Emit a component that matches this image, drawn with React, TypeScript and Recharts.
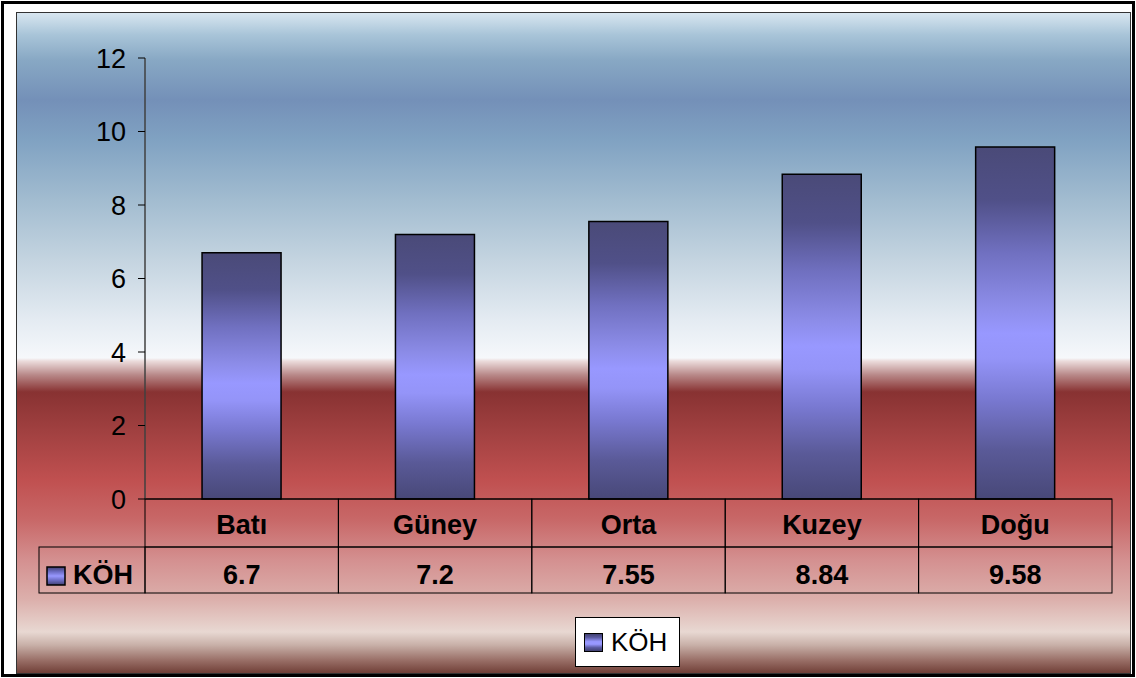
import React from "react";
import { Bar, BarChart, Legend, XAxis, YAxis } from "recharts";

// values
const regions = ["Batı", "Güney", "Orta", "Kuzey", "Doğu"];
const kohValues = [6.7, 7.2, 7.55, 8.84, 9.58];
const valueLabels = ["6.7", "7.2", "7.55", "8.84", "9.58"];
const yTicks = [0, 2, 4, 6, 8, 10, 12];
const seriesName = "KÖH";

const data = regions.map((region, i) => ({ region, koh: kohValues[i] }));

const FONT = '"Liberation Sans", Arial, sans-serif';

const bgGradient = `linear-gradient(to bottom,
  #d8e6f0 0px, #a8c4d8 22px, #88a8c4 47px, #7490b8 87px, #80a2c2 127px,
  #a2bcd0 187px, #c4d4e0 247px, #e4ebf2 307px, #f6f8fb 345px,
  #ecdcdc 348px, #b88888 362px, #883232 379px, #a04040 417px,
  #c05050 467px, #c86868 507px, #d49090 547px, #dcb0ac 587px,
  #e8d8d2 619px, #c8b0a8 632px, #9a7068 647px, #6a3830 662px)`;

const swatchCss =
  "linear-gradient(to bottom, #404070 0%, #5a5aa0 20%, #9898ff 45%, #9898ff 60%, #5a5aa0 80%, #404070 100%)";

function TableTick(props: any) {
  const { x, y, payload, index } = props;
  const half = payload && payload.offset ? payload.offset : 96.7;
  const left = x - half;
  const w = half * 2;
  const row1 = 48;
  const row2 = 46;
  return (
    <g fontFamily={FONT}>
      {index === 0 && (
        <g>
          <rect x={39} y={y + row1} width={left - 39} height={row2} fill="none" stroke="#000" strokeWidth={1} />
          <rect x={47} y={y + 68} width={18} height={18} fill="url(#swatchGrad)" stroke="#000" strokeWidth={1.5} />
          <text x={73} y={y + 85} fontSize={27} fontWeight="bold" fill="#000">
            {seriesName}
          </text>
        </g>
      )}
      <rect x={left} y={y} width={w} height={row1} fill="none" stroke="#000" strokeWidth={1} />
      <rect x={left} y={y + row1} width={w} height={row2} fill="none" stroke="#000" strokeWidth={1} />
      <text x={x} y={y + 35} textAnchor="middle" fontSize={27} fontWeight="bold" fill="#000">
        {payload.value}
      </text>
      <text x={x} y={y + 85} textAnchor="middle" fontSize={27} fontWeight="bold" fill="#000">
        {valueLabels[index]}
      </text>
    </g>
  );
}

function LegendBox(props: any) {
  const items = props.payload || [];
  return (
    <div
      style={{
        width: 105,
        height: 50,
        boxSizing: "border-box",
        background: "#fff",
        border: "1px solid #000",
        display: "flex",
        alignItems: "center",
        fontFamily: FONT,
        fontSize: 26,
        color: "#000",
      }}
    >
      {items.map((it: any) => (
        <span key={it.value} style={{ display: "flex", alignItems: "center" }}>
          <span
            style={{
              display: "inline-block",
              width: 19,
              height: 19,
              marginLeft: 8,
              marginRight: 8,
              boxSizing: "border-box",
              border: "1.5px solid #000",
              background: swatchCss,
            }}
          />
          {it.value}
        </span>
      ))}
    </div>
  );
}

export default function App() {
  return (
    <div
      style={{
        position: "absolute",
        left: 0,
        top: 0,
        width: 1136,
        height: 678,
        background: "#fff",
        overflow: "hidden",
      }}
    >
      {/* outer frame */}
      <div
        style={{
          position: "absolute",
          left: 1,
          top: 1,
          width: 1134,
          height: 676,
          boxSizing: "border-box",
          border: "3px solid #000",
        }}
      />
      {/* chart area background */}
      <div
        style={{
          position: "absolute",
          left: 16,
          top: 12,
          width: 1115,
          height: 662,
          boxSizing: "border-box",
          border: "1px solid #333",
          background: bgGradient,
        }}
      />
      <div style={{ position: "absolute", left: 0, top: 0 }}>
        <BarChart
          width={1136}
          height={678}
          data={data}
          margin={{ top: 58, right: 24, left: 0, bottom: 85 }}
          barCategoryGap="29.5%"
          style={{ fontFamily: FONT }}
        >
          <defs>
            <linearGradient id="barGrad" x1="0" y1="0" x2="0" y2="1">
              <stop offset="0%" stopColor="#4a4a78" />
              <stop offset="15%" stopColor="#505088" />
              <stop offset="30%" stopColor="#7070c0" />
              <stop offset="45%" stopColor="#8c8ce8" />
              <stop offset="53%" stopColor="#9898ff" />
              <stop offset="60%" stopColor="#9494f8" />
              <stop offset="72%" stopColor="#7878d0" />
              <stop offset="86%" stopColor="#5a5a98" />
              <stop offset="100%" stopColor="#484878" />
            </linearGradient>
            <linearGradient id="swatchGrad" x1="0" y1="0" x2="0" y2="1">
              <stop offset="0%" stopColor="#404070" />
              <stop offset="25%" stopColor="#6a6ac0" />
              <stop offset="50%" stopColor="#9898ff" />
              <stop offset="75%" stopColor="#6a6ac0" />
              <stop offset="100%" stopColor="#404070" />
            </linearGradient>
          </defs>
          <XAxis
            dataKey="region"
            height={94}
            interval={0}
            tickLine={false}
            tickSize={0}
            tickMargin={0}
            axisLine={{ stroke: "#000", strokeWidth: 1 }}
            tick={<TableTick />}
          />
          <YAxis
            domain={[0, 12]}
            ticks={yTicks}
            interval={0}
            width={145}
            tickSize={7}
            tickMargin={12}
            axisLine={{ stroke: "#404040", strokeWidth: 1.5 }}
            tickLine={{ stroke: "#000" }}
            tick={{ fill: "#000", fontSize: 27, fontFamily: FONT }}
          />
          <Legend
            layout="vertical"
            align="center"
            verticalAlign="middle"
            content={<LegendBox />}
            wrapperStyle={{ position: "absolute", left: 575, top: 617, width: 105, height: 50 }}
          />
          <Bar
            dataKey="koh"
            name={seriesName}
            fill="url(#barGrad)"
            stroke="#000"
            strokeWidth={1.5}
            isAnimationActive={false}
          />
        </BarChart>
      </div>
    </div>
  );
}
